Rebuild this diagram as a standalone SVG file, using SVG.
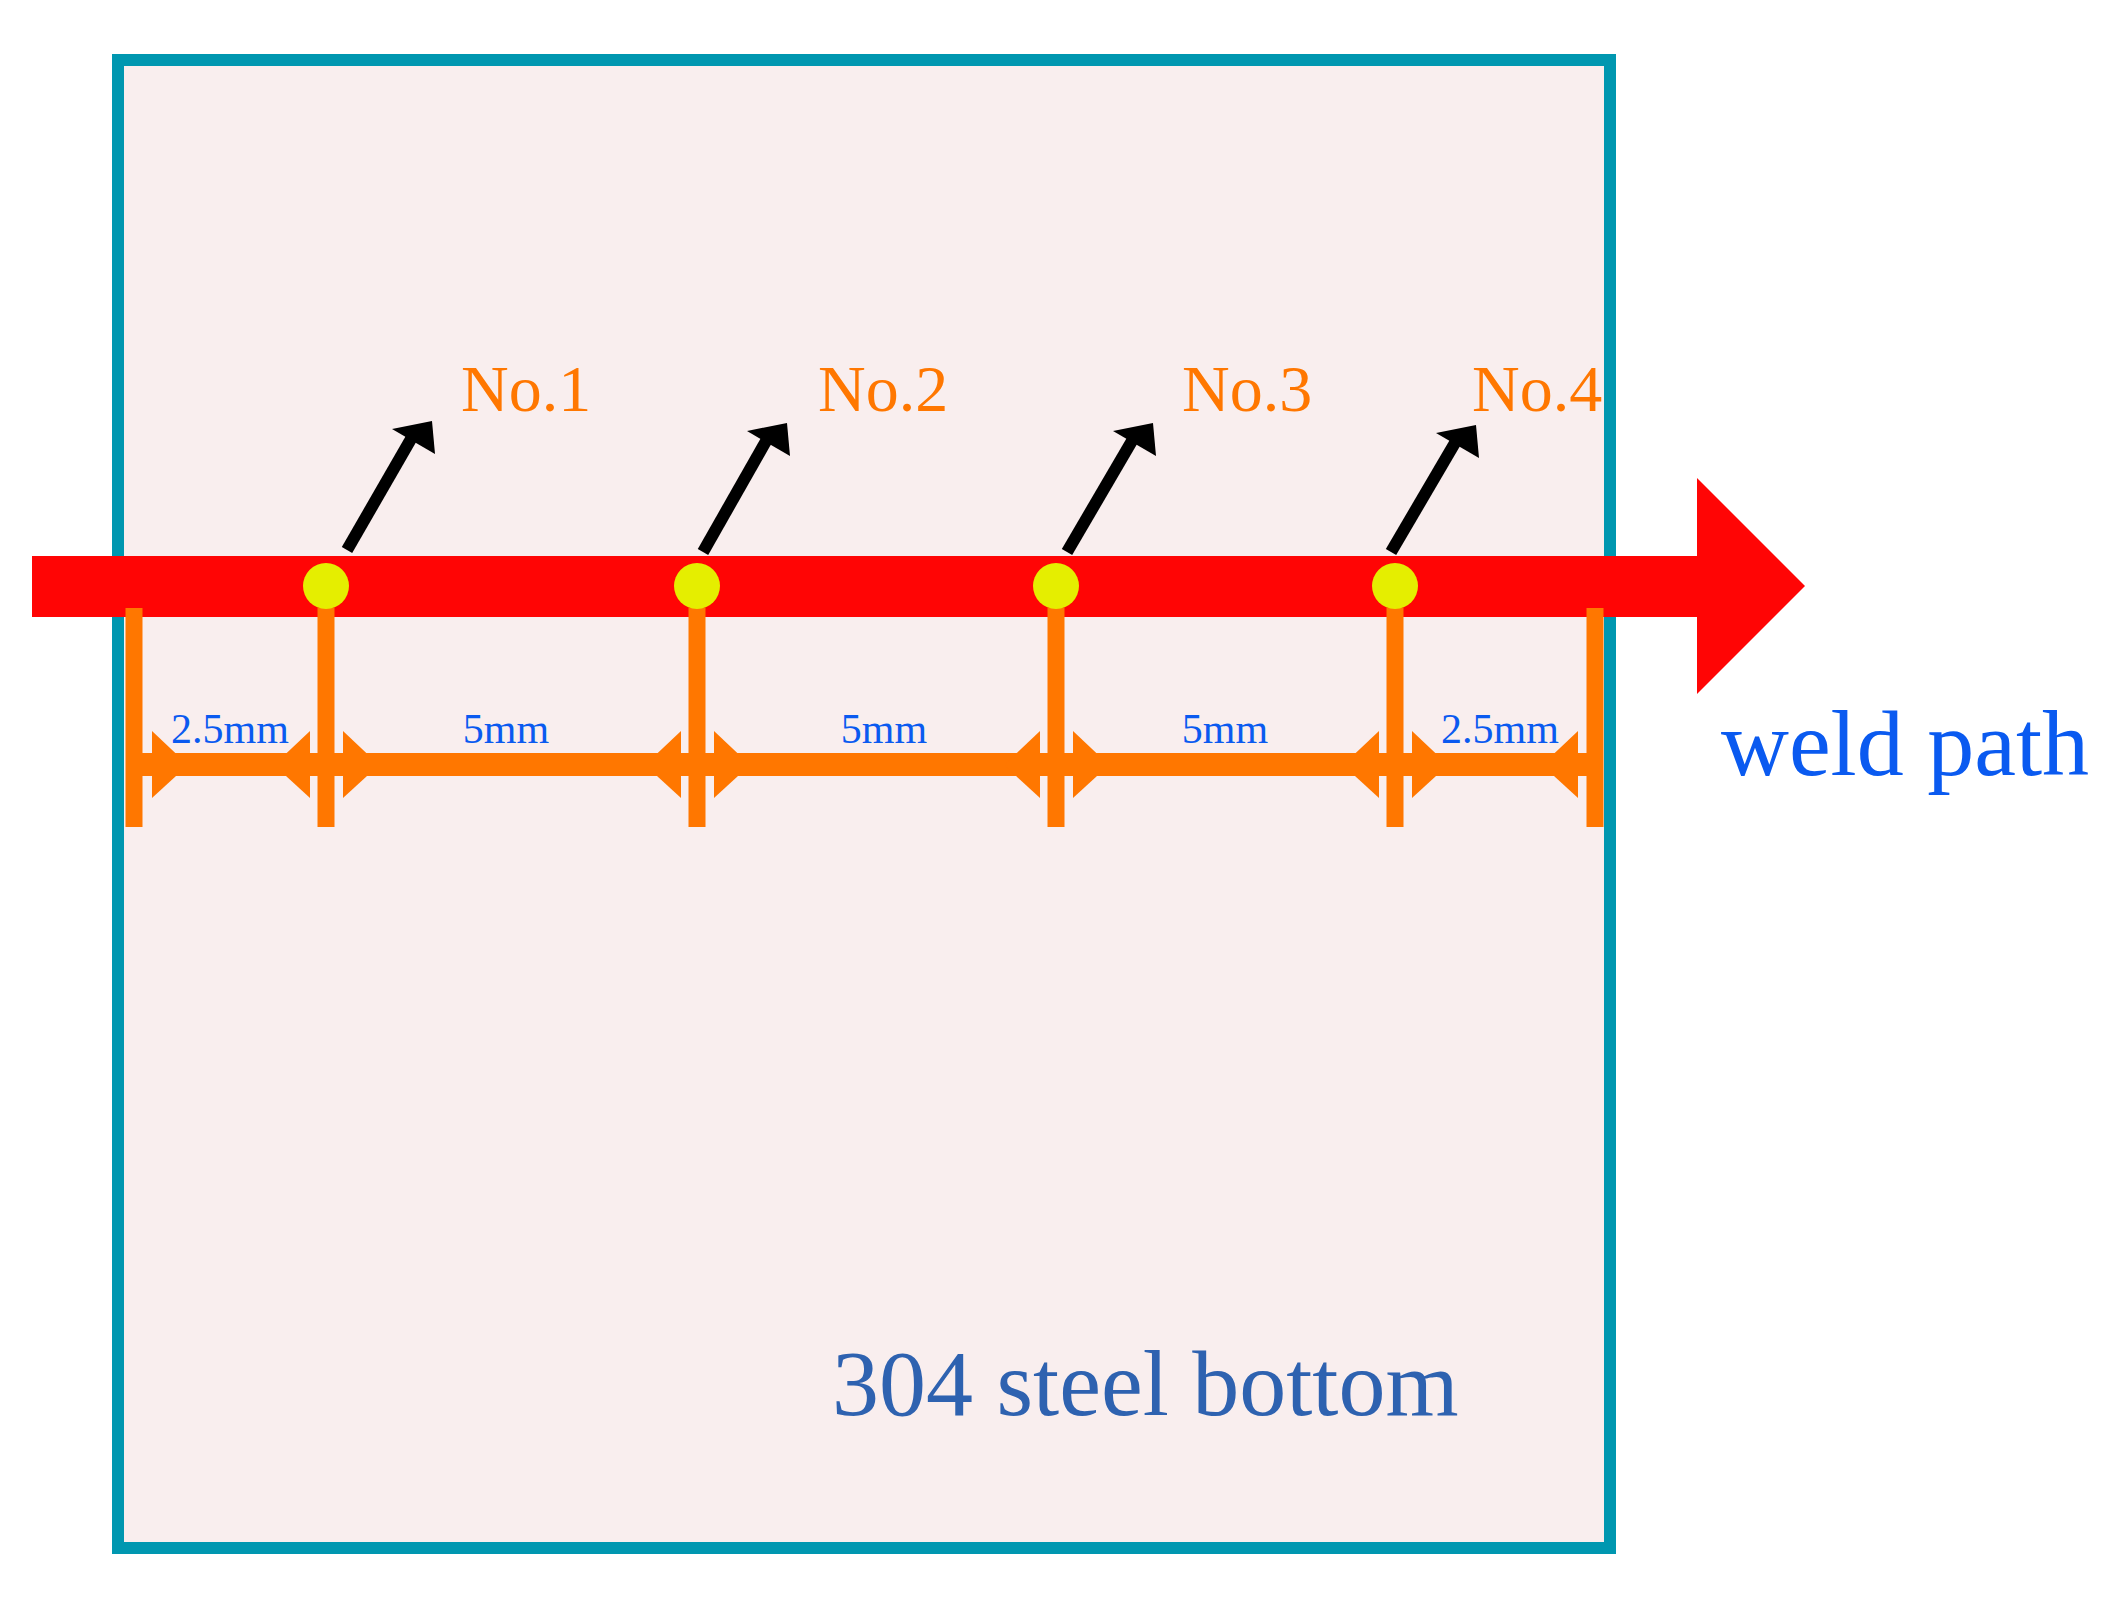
<svg xmlns="http://www.w3.org/2000/svg" width="2128" height="1604" viewBox="0 0 2128 1604">
<style>
.o{fill:#ff7700}
.vl{stroke:#ff7700;stroke-width:17}
.lbl{font-family:"Liberation Serif",serif;font-size:66px;fill:#ff7700}
.dim{font-family:"Liberation Serif",serif;font-size:42px;fill:#0a5af0;text-anchor:middle}
.ptr{stroke:#000;stroke-width:12}
</style>
<rect width="2128" height="1604" fill="#fff"/>
<g id="plate"><rect x="118" y="60" width="1492" height="1488" fill="#f9eeee" stroke="#0097b0" stroke-width="12"/></g>
<g id="weldpath"><rect x="32" y="556" width="1665" height="61" fill="#ff0505"/><polygon points="1697,478 1805,586 1697,694" fill="#ff0505"/></g>
<g id="connectors">
<line class="vl" x1="134" y1="608" x2="134" y2="827"/>
<line class="vl" x1="326" y1="608" x2="326" y2="827"/>
<line class="vl" x1="697" y1="608" x2="697" y2="827"/>
<line class="vl" x1="1056" y1="608" x2="1056" y2="827"/>
<line class="vl" x1="1395" y1="608" x2="1395" y2="827"/>
<line class="vl" x1="1595" y1="608" x2="1595" y2="827"/>
<rect class="o" x="134" y="753" width="1461" height="23"/>
<g class="o">
<polygon points="152,731 152,798 188,765"/>
<polygon points="310,731 310,798 274,765"/>
<polygon points="343,731 343,798 379,765"/>
<polygon points="681,731 681,798 645,765"/>
<polygon points="714,731 714,798 750,765"/>
<polygon points="1040,731 1040,798 1004,765"/>
<polygon points="1073,731 1073,798 1109,765"/>
<polygon points="1379,731 1379,798 1343,765"/>
<polygon points="1412,731 1412,798 1448,765"/>
<polygon points="1578,731 1578,798 1542,765"/>
</g>
<line class="ptr" x1="347" y1="550" x2="415" y2="432"/><polygon points="432,421 392,429 435,454"/>
<line class="ptr" x1="703" y1="552" x2="770" y2="434"/><polygon points="787,423 747,431 790,456"/>
<line class="ptr" x1="1067" y1="552" x2="1136" y2="434"/><polygon points="1153,423 1113,431 1156,456"/>
<line class="ptr" x1="1391" y1="552" x2="1459" y2="436"/><polygon points="1476,425 1436,433 1479,458"/>
</g>
<g id="points" fill="#e5ee00">
<circle cx="326" cy="586" r="23"/><circle cx="697" cy="586" r="23"/><circle cx="1056" cy="586" r="23"/><circle cx="1395" cy="586" r="23"/>
</g>
<g id="labels">
<text class="lbl" x="461" y="411">No.1</text>
<text class="lbl" x="818" y="411">No.2</text>
<text class="lbl" x="1182" y="411">No.3</text>
<text class="lbl" x="1472" y="411">No.4</text>
<text class="dim" x="230" y="743">2.5mm</text>
<text class="dim" x="506" y="743">5mm</text>
<text class="dim" x="884" y="743">5mm</text>
<text class="dim" x="1225" y="743">5mm</text>
<text class="dim" x="1500" y="743">2.5mm</text>
<text x="1721" y="775" font-family="Liberation Serif,serif" font-size="94" fill="#0a5af0">weld path</text>
<text x="832" y="1415" font-family="Liberation Serif,serif" font-size="94" fill="#2e62b0">304 steel bottom</text>
</g>
</svg>
